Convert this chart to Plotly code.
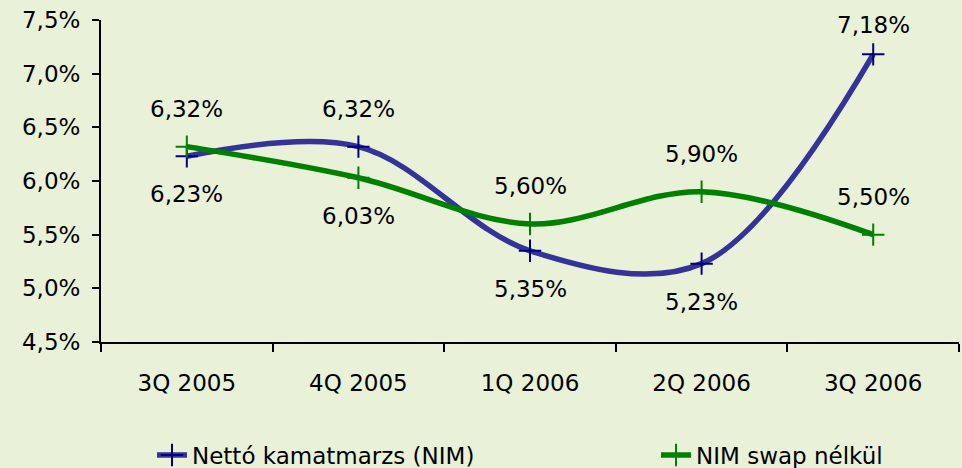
import plotly.graph_objects as go

categories = ["3Q 2005", "4Q 2005", "1Q 2006", "2Q 2006", "3Q 2006"]
nim = [6.23, 6.32, 5.35, 5.23, 7.18]
nim_swap = [6.32, 6.03, 5.60, 5.90, 5.50]
nim_label_side = [-1, 1, -1, -1, 1]
swap_label_side = [1, -1, 1, 1, 1]
y_ticks = [4.5, 5.0, 5.5, 6.0, 6.5, 7.0, 7.5]
y_tick_labels = ["4,5%", "5,0%", "5,5%", "6,0%", "6,5%", "7,0%", "7,5%"]

BG = "#E9F1D8"
FONT = "DejaVu Sans"
FS = 23
W, H = 962, 468
ML, MR, MT, MB = 101, 3, 20, 126
YMIN, YMAX = 4.5, 7.5
PLOT_H = H - MT - MB

fig = go.Figure()
fig.add_trace(go.Scatter(
    x=categories, y=nim, name="Nettó kamatmarzs (NIM)",
    mode="lines+markers", legend="legend",
    line=dict(color="#333399", width=5.5, shape="spline", smoothing=1),
    marker=dict(symbol="cross-thin", size=16, line=dict(color="#000080", width=2), color="#000080"),
))
fig.add_trace(go.Scatter(
    x=categories, y=nim_swap, name="NIM swap nélkül",
    mode="lines+markers", legend="legend2",
    line=dict(color="#008000", width=5.5, shape="spline", smoothing=1),
    marker=dict(symbol="cross-thin", size=16, line=dict(color="#008000", width=2), color="#008000"),
))

def fmt(v):
    return f"{v:.2f}".replace(".", ",") + "%"

OFFSET = 38
for series, sides in ((nim, nim_label_side), (nim_swap, swap_label_side)):
    for c, v, s in zip(categories, series, sides):
        shift = OFFSET * s
        # keep labels inside the chart area (like the original)
        py = MT + (YMAX - v) / (YMAX - YMIN) * PLOT_H
        if s > 0 and py - shift < 25:
            shift = py - 25
        fig.add_annotation(x=c, y=v, text=fmt(v), showarrow=False,
                           yshift=shift, font=dict(family=FONT, size=FS, color="black"))

leg_common = dict(orientation="h", yref="container", y=(H - 455) / H, yanchor="middle",
                  xref="container", xanchor="left",
                  font=dict(family=FONT, size=FS), bgcolor="rgba(0,0,0,0)")

fig.update_layout(
    width=W, height=H,
    margin=dict(l=ML, r=MR, t=MT, b=MB, autoexpand=False),
    paper_bgcolor=BG, plot_bgcolor=BG,
    font=dict(family=FONT, size=FS, color="black"),
    showlegend=True,
    legend=dict(x=152 / W, **leg_common),
    legend2=dict(x=656 / W, **leg_common),
    xaxis=dict(type="category", range=[-0.5, 4.5], tickson="boundaries",
               ticks="outside", ticklen=8, tickwidth=2, tickcolor="black",
               showline=True, linecolor="black", linewidth=2, showgrid=False, zeroline=False,
               ticklabelstandoff=19, automargin=False, fixedrange=True),
    yaxis=dict(range=[YMIN, YMAX], tickvals=y_ticks, ticktext=y_tick_labels,
               ticks="outside", ticklen=7, tickwidth=2, tickcolor="black",
               showline=True, linecolor="black", linewidth=2, showgrid=False, zeroline=False,
               ticklabelstandoff=7, automargin=False, fixedrange=True),
)

fig.write_html("out.html", config={"displayModeBar": False},
               post_script="document.body.style.margin='0';document.body.style.overflow='hidden';")
